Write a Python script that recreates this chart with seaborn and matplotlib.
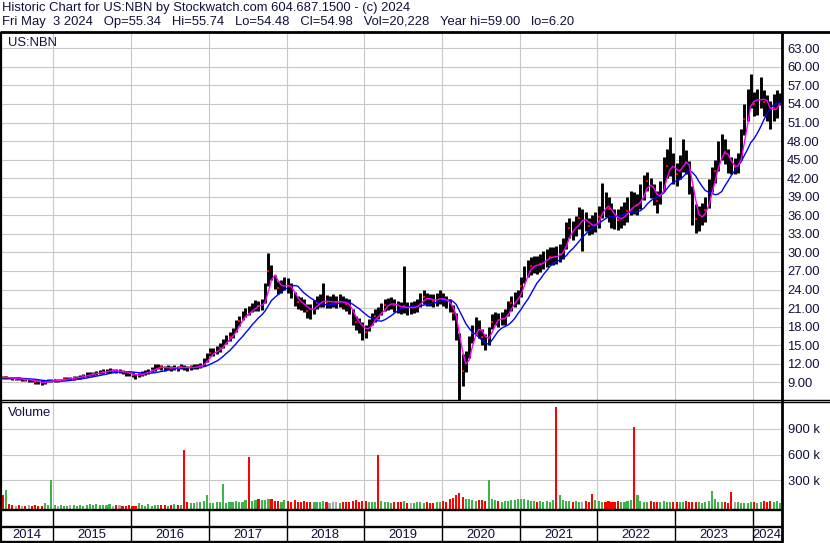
import numpy as np
import pandas as pd
import matplotlib
matplotlib.use("Agg")
import matplotlib.pyplot as plt
import matplotlib.dates as mdates
from matplotlib.lines import Line2D
import seaborn as sns

# ---------------- data (semi-monthly periods, May 2014 - May 2024) ----------------
close_14 = [9.75, 9.8, 9.7, 9.6, 9.6, 9.5, 9.5, 9.4, 9.4, 9.3, 9.1, 9.0, 8.9, 9.1, 9.2, 9.25]
close_15 = [9.3, 9.3, 9.4, 9.5, 9.6, 9.6, 9.7, 9.8, 9.9, 10.0, 10.2, 10.3, 10.4, 10.5, 10.6, 10.7, 10.8, 10.9, 10.9, 10.8, 10.8, 10.7, 10.5, 10.4]
close_16 = [10.2, 10.1, 10.2, 10.4, 10.6, 10.8, 11.0, 11.3, 11.5, 11.4, 11.3, 11.4, 11.3, 11.4, 11.3, 11.5, 11.4, 11.3, 11.4, 11.5, 11.5, 11.7, 12.2, 13.0]
close_17 = [13.8, 14.0, 14.1, 14.6, 15.3, 15.9, 16.4, 16.9, 18.0, 18.9, 19.8, 20.2, 20.1, 21.1, 21.5, 21.4, 21.5, 22.8, 27.0, 26.8, 25.3, 24.2, 24.5, 25.0]
close_18 = [24.6, 23.8, 22.5, 22.0, 21.8, 21.4, 20.6, 20.5, 21.2, 21.9, 22.1, 22.2, 22.0, 22.0, 22.0, 22.0, 22.1, 21.9, 21.6, 21.3, 19.2, 18.7, 18.3, 17.7]
close_19 = [17.1, 18.3, 19.2, 19.8, 19.7, 20.9, 21.5, 21.7, 21.8, 21.5, 21.2, 21.0, 21.3, 21.0, 21.0, 21.2, 21.4, 22.3, 22.8, 22.5, 22.3, 22.2, 22.4, 22.8]
close_20 = [22.3, 22.0, 21.4, 20.2, 18.0, 13.0, 10.8, 12.2, 14.7, 16.9, 18.2, 17.6, 16.3, 15.5, 16.5, 18.8, 19.3, 19.1, 19.3, 19.5, 21.0, 21.8, 22.4, 22.8]
close_21 = [24.5, 26.5, 27.3, 27.8, 28.0, 27.9, 28.2, 28.8, 29.1, 29.3, 29.4, 29.3, 29.8, 30.6, 32.5, 34.0, 33.6, 34.3, 35.5, 35.5, 35.0, 34.2, 34.1, 34.9]
close_22 = [35.7, 37.8, 37.6, 37.0, 36.2, 35.5, 35.2, 35.7, 36.2, 36.7, 37.8, 37.6, 37.7, 39.0, 40.5, 41.6, 40.5, 39.4, 38.3, 39.6, 41.8, 44.0, 44.4, 43.4]
close_23 = [42.6, 43.5, 45.5, 44.6, 42.5, 37.6, 35.4, 35.6, 36.2, 36.9, 39.5, 41.8, 43.2, 45.5, 46.8, 46.2, 44.5, 43.8, 43.8, 44.2, 47.2, 51.5, 53.5, 55.8]
close_24 = [54.0, 54.2, 55.8, 54.3, 53.6, 52.3, 53.3, 54.0, 54.9]

hi_14 = [10.1, 10.0, 9.9, 9.9, 9.8, 9.8, 9.7, 9.7, 9.6, 9.6, 9.4, 9.3, 9.3, 9.4, 9.5, 9.5]
hi_15 = [9.6, 9.5, 9.6, 9.8, 9.9, 9.9, 10.0, 10.1, 10.2, 10.3, 10.6, 10.7, 10.7, 10.9, 11.0, 11.1, 11.2, 11.3, 11.2, 11.1, 11.1, 11.0, 10.8, 10.7]
hi_16 = [10.6, 10.4, 10.5, 10.8, 11.0, 11.2, 11.4, 11.9, 11.9, 11.8, 11.7, 11.8, 11.6, 11.8, 11.7, 11.9, 11.8, 11.7, 11.8, 11.9, 11.9, 12.2, 13.0, 13.8]
hi_17 = [14.6, 14.6, 14.8, 15.3, 16.0, 16.6, 17.2, 17.8, 19.0, 19.8, 20.6, 21.0, 21.4, 21.9, 22.3, 22.2, 22.4, 25.0, 29.9, 28.0, 26.4, 25.3, 25.6, 26.0]
hi_18 = [25.8, 25.0, 23.6, 23.0, 22.8, 22.4, 21.6, 21.6, 22.3, 23.0, 23.3, 25.0, 23.1, 22.9, 23.2, 23.0, 23.3, 23.0, 22.6, 22.4, 20.8, 19.8, 19.4, 18.8]
hi_19 = [18.3, 19.3, 20.2, 20.8, 21.2, 21.8, 22.5, 22.7, 22.8, 22.5, 22.2, 22.0, 27.8, 22.0, 22.0, 22.2, 22.5, 23.5, 23.9, 23.5, 23.3, 23.2, 23.5, 24.0]
hi_20 = [23.4, 23.0, 22.4, 21.5, 20.2, 17.0, 13.5, 14.0, 16.5, 18.3, 19.6, 19.0, 17.6, 16.8, 18.0, 20.0, 20.4, 20.2, 20.4, 20.8, 22.2, 23.0, 23.6, 24.0]
hi_21 = [26.0, 27.8, 28.8, 29.3, 29.5, 29.4, 29.7, 30.3, 30.6, 30.8, 30.9, 31.1, 31.3, 32.3, 35.0, 35.6, 35.1, 35.9, 37.3, 37.0, 36.5, 35.6, 36.0, 36.6]
hi_22 = [37.5, 41.3, 39.8, 39.0, 38.0, 37.0, 37.0, 37.5, 38.2, 38.9, 40.0, 39.8, 39.5, 41.0, 42.5, 43.0, 42.0, 41.0, 40.0, 41.5, 45.5, 46.8, 48.7, 46.0]
hi_23 = [44.5, 45.8, 48.4, 46.6, 44.8, 40.8, 37.8, 37.5, 38.0, 39.0, 41.8, 43.8, 45.0, 48.0, 49.2, 48.4, 46.8, 45.5, 45.3, 46.0, 50.0, 54.0, 56.5, 58.9]
hi_24 = [56.0, 56.5, 58.4, 56.3, 55.5, 54.5, 55.6, 56.3, 55.7]

lo_14 = [9.5, 9.5, 9.5, 9.4, 9.3, 9.3, 9.2, 9.2, 9.1, 9.0, 8.8, 8.7, 8.6, 8.8, 9.0, 9.0]
lo_15 = [9.0, 9.1, 9.2, 9.3, 9.3, 9.4, 9.4, 9.5, 9.6, 9.7, 9.9, 10.0, 10.1, 10.2, 10.3, 10.4, 10.5, 10.5, 10.6, 10.5, 10.5, 10.3, 10.1, 10.0]
lo_16 = [9.9, 9.6, 9.8, 10.0, 10.2, 10.4, 10.6, 10.9, 11.1, 11.0, 10.9, 11.0, 10.9, 11.0, 10.9, 11.1, 11.0, 10.9, 11.0, 11.1, 11.1, 11.3, 11.6, 12.3]
lo_17 = [13.2, 13.3, 13.5, 13.9, 14.6, 15.2, 15.7, 16.1, 17.1, 18.1, 19.0, 19.5, 19.9, 20.3, 20.6, 20.6, 20.7, 21.8, 24.5, 25.5, 24.1, 23.2, 23.5, 24.0]
lo_18 = [23.5, 22.6, 21.4, 20.9, 20.7, 20.3, 19.4, 19.2, 20.1, 20.8, 21.1, 21.2, 21.0, 21.0, 21.1, 21.0, 21.1, 20.9, 20.6, 20.1, 18.2, 17.5, 17.0, 15.8]
lo_19 = [16.2, 17.3, 18.2, 18.8, 19.3, 19.9, 20.5, 20.7, 20.8, 20.4, 20.2, 20.0, 20.2, 19.9, 20.0, 20.2, 20.4, 21.2, 21.7, 21.4, 21.3, 21.2, 21.3, 21.7]
lo_20 = [21.3, 21.0, 20.4, 19.0, 15.8, 6.2, 8.4, 10.6, 12.9, 15.4, 16.8, 16.2, 15.0, 14.3, 15.0, 17.6, 18.2, 18.0, 18.2, 18.3, 19.8, 20.6, 21.2, 21.6]
lo_21 = [22.8, 25.0, 26.0, 26.4, 26.6, 26.5, 26.8, 27.3, 27.6, 27.9, 28.0, 28.2, 28.4, 29.0, 30.6, 32.4, 32.0, 32.6, 33.8, 30.2, 33.4, 32.8, 33.0, 33.3]
lo_22 = [34.0, 35.5, 35.8, 35.0, 34.0, 33.8, 33.6, 34.0, 34.5, 35.0, 36.0, 36.2, 36.0, 37.0, 38.5, 40.0, 38.8, 37.6, 36.4, 37.8, 40.0, 42.0, 42.3, 41.0]
lo_23 = [40.8, 41.8, 43.0, 42.6, 39.5, 34.5, 33.1, 33.5, 34.5, 35.0, 37.2, 39.7, 41.3, 43.2, 44.9, 44.3, 42.8, 42.6, 42.7, 42.8, 45.0, 49.0, 51.2, 53.4]
lo_24 = [52.0, 52.3, 53.4, 52.0, 51.3, 50.0, 51.2, 51.8, 53.8]

# volume, thousands of shares
vol_14 = [130, 190, 25, 12, 8, 10, 6, 8, 12, 6, 10, 8, 6, 40, 20, 300]
vol_15 = [10, 8, 12, 8, 6, 10, 14, 8, 12, 6, 10, 25, 18, 30, 12, 20, 10, 28, 8, 10, 12, 8, 6, 10]
vol_16 = [8, 6, 35, 10, 8, 30, 8, 10, 12, 10, 15, 8, 12, 25, 15, 15, 650, 45, 40, 35, 50, 55, 60, 130]
vol_17 = [40, 35, 45, 50, 257, 40, 50, 45, 60, 55, 50, 70, 570, 60, 70, 80, 75, 70, 85, 80, 60, 65, 55, 70]
vol_18 = [60, 55, 70, 50, 45, 60, 55, 50, 45, 55, 50, 60, 45, 40, 50, 45, 40, 55, 50, 45, 60, 70, 55, 60]
vol_19 = [65, 55, 50, 45, 590, 60, 50, 45, 40, 45, 50, 45, 60, 40, 35, 40, 45, 50, 40, 45, 40, 35, 45, 50]
vol_20 = [60, 55, 80, 100, 130, 160, 110, 90, 80, 70, 60, 75, 70, 60, 300, 80, 70, 60, 55, 65, 60, 70, 75, 80]
vol_21 = [80, 90, 70, 60, 65, 55, 60, 50, 60, 55, 70, 1150, 130, 70, 60, 65, 55, 60, 50, 55, 60, 50, 142, 70]
vol_22 = [60, 55, 50, 60, 45, 50, 60, 55, 50, 65, 70, 920, 130, 60, 55, 50, 60, 45, 50, 55, 60, 50, 45, 50]
vol_23 = [50, 45, 55, 60, 50, 55, 45, 50, 40, 45, 60, 177, 80, 55, 50, 45, 40, 166, 50, 45, 40, 35, 40, 50]
vol_24 = [45, 40, 50, 60, 55, 60, 50, 61, 40]

price_ticks = [9, 12, 15, 18, 21, 24, 27, 30, 33, 36, 39, 42, 45, 48, 51, 54, 57, 60, 63]
vol_ticks = [300, 600, 900]
vol_tick_labels = ["300 k", "600 k", "900 k"]
years = [2014, 2015, 2016, 2017, 2018, 2019, 2020, 2021, 2022, 2023, 2024]

title_line1 = "Historic Chart for US:NBN by Stockwatch.com 604.687.1500 - (c) 2024"
title_line2 = "Fri May  3 2024   Op=55.34   Hi=55.74   Lo=54.48   Cl=54.98   Vol=20,228   Year hi=59.00   lo=6.20"
symbol = "US:NBN"

# ---------------- assemble ----------------
close = pd.Series(close_14 + close_15 + close_16 + close_17 + close_18 + close_19 +
                  close_20 + close_21 + close_22 + close_23 + close_24)
hi = np.array(hi_14 + hi_15 + hi_16 + hi_17 + hi_18 + hi_19 + hi_20 + hi_21 + hi_22 + hi_23 + hi_24)
lo = np.array(lo_14 + lo_15 + lo_16 + lo_17 + lo_18 + lo_19 + lo_20 + lo_21 + lo_22 + lo_23 + lo_24)
vol = np.array(vol_14 + vol_15 + vol_16 + vol_17 + vol_18 + vol_19 + vol_20 + vol_21 + vol_22 + vol_23 + vol_24, dtype=float)

dates = pd.date_range("2014-05-01", periods=len(close), freq="SMS") + pd.Timedelta(days=7)
xn = mdates.date2num(dates.to_pydatetime())

df = pd.DataFrame({
    "x": xn,
    "close": close.values,
    "ma_fast": close.rolling(3, min_periods=1).mean().values,
    "ma_slow": close.rolling(10, min_periods=1).mean().values,
})
chg = close.diff().fillna(-1).values
vcolors = np.where(chg > 0, "#3cb44b", np.where(chg < 0, "#ff0000", "#a8a8a8"))

xlim = (mdates.date2num(pd.Timestamp("2014-04-30")), mdates.date2num(pd.Timestamp("2024-05-15")))
year_pos = [mdates.date2num(pd.Timestamp(f"{y}-01-01")) for y in years[1:]]

# ---------------- figure ----------------
sns.set_theme(style="white")
plt.rcParams["font.family"] = ["Liberation Sans", "DejaVu Sans"]
TXT = "#10103a"
FS = 9.4
W, H = 830, 543
fig = plt.figure(figsize=(W / 100, H / 100), dpi=100)
fig.patch.set_facecolor("white")


def frame(x0, y0, x1, y1):
    return [x0 / W, 1 - y1 / H, (x1 - x0) / W, (y1 - y0) / H]


GRID = "#c8c8c8"
ax_p = fig.add_axes(frame(1, 32, 781.5, 400))
ax_v = fig.add_axes(frame(1, 402.5, 781.5, 509.5))
ax_d = fig.add_axes(frame(1, 509.5, 781.5, 542))

for ax in (ax_p, ax_v, ax_d):
    ax.set_facecolor("white")
    for s in ax.spines.values():
        s.set_visible(False)
    ax.set_xlim(*xlim)
    ax.set_xticks(year_pos)
    ax.tick_params(axis="x", length=0, labelbottom=False)

# price panel
ax_p.vlines(xn, lo, hi, color="black", lw=2.1, zorder=2)
sns.scatterplot(x=xn[1::3], y=close.values[1::3], ax=ax_p, color="red", marker="s", s=4,
                linewidth=0, zorder=3, legend=False)
sns.lineplot(data=df, x="x", y="ma_slow", ax=ax_p, color="#0000ff", lw=1.0, zorder=4)
sns.lineplot(data=df, x="x", y="ma_fast", ax=ax_p, color="#ff00ff", lw=1.0, zorder=5)
ax_p.set_ylim(6.14, 65.64)
ax_p.set_yticks(price_ticks)
ax_p.set_yticklabels([f"{v:.2f}" for v in price_ticks])
ax_p.yaxis.tick_right()
ax_p.tick_params(axis="y", length=0, pad=4, labelsize=FS, labelcolor=TXT)
ax_p.grid(True, color=GRID, lw=0.8)
ax_p.set_axisbelow(True)
ax_p.set_xlabel("")
ax_p.set_ylabel("")
ax_p.text(7 / 780, 1 - 11 / 368, symbol, transform=ax_p.transAxes, fontsize=FS,
          color=TXT, ha="left", va="center")

# volume panel
vbot = -37
ax_v.bar(xn, vol - vbot, bottom=vbot, width=10, color=vcolors, linewidth=0, zorder=2)
ax_v.set_ylim(vbot, 1203)
ax_v.set_yticks(vol_ticks)
ax_v.set_yticklabels(vol_tick_labels)
ax_v.yaxis.tick_right()
ax_v.tick_params(axis="y", length=0, pad=5, labelsize=FS, labelcolor=TXT)
ax_v.grid(True, color=GRID, lw=0.8)
ax_v.set_axisbelow(True)
ax_v.text(7 / 780, 1 - 11 / 107, "Volume", transform=ax_v.transAxes, fontsize=FS,
          color=TXT, ha="left", va="center")

# date rows
ax_d.set_ylim(0, 1)
ax_d.set_yticks([])
ax_d.vlines(year_pos, 0, 1, color="black", lw=1.0)
edges = [xlim[0]] + year_pos + [xlim[1]]
for i, y in enumerate(years):
    c = (edges[i] + edges[i + 1]) / 2
    ax_d.text(c, 0.23, str(y), ha="center", va="center", fontsize=FS, color=TXT)

# frame lines (figure pixel coordinates)


def hline(y, x0, x1, lw):
    fig.add_artist(Line2D([x0 / W, x1 / W], [1 - y / H, 1 - y / H], color="black",
                          lw=lw, transform=fig.transFigure, solid_capstyle="butt"))


def vline(x, y0, y1, lw):
    fig.add_artist(Line2D([x / W, x / W], [1 - y0 / H, 1 - y1 / H], color="black",
                          lw=lw, transform=fig.transFigure, solid_capstyle="butt"))


hline(31.5, 0, 830, 2.0)
hline(400.2, 0, 830, 1.0)
hline(402.4, 0, 830, 1.0)
hline(509.5, 0, 781.5, 1.7)
hline(526.8, 0, 781.5, 1.7)
hline(541.8, 0, 781.5, 1.7)
vline(1.0, 31.5, 543, 1.6)
vline(781.5, 31.5, 543, 2.0)

fig.text(2 / W, 1 - 8 / H, title_line1, fontsize=FS, color=TXT, ha="left", va="center")
fig.text(2 / W, 1 - 22.5 / H, title_line2, fontsize=FS, color=TXT, ha="left", va="center")

fig.savefig("out.png", dpi=100, facecolor="white")
